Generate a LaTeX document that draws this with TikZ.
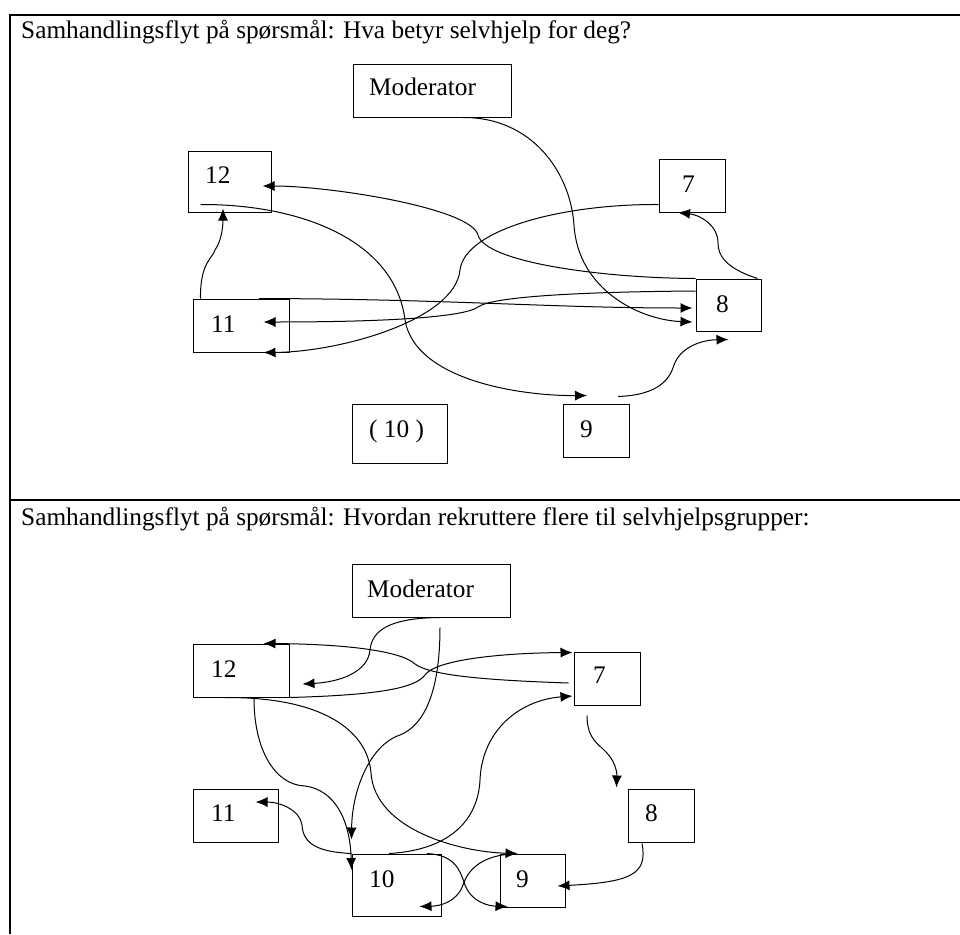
\documentclass[tikz,border=0pt]{standalone}
\usepackage{fontspec}
\setmainfont{Liberation Serif}
\usetikzlibrary{arrows.meta,calc}
\begin{document}
\begin{tikzpicture}[>={Latex[length=12pt,width=10pt]},x=1pt,y=-1pt,
	box/.style={draw,line width=1pt,inner sep=0pt},
	lbl/.style={anchor=base west,inner sep=0pt,font=\fontsize{25.3}{30}\selectfont},
	con/.style={->,line width=1pt}]
	\useasboundingbox (0,0) rectangle (960,934);
	% tabellramme
	\draw[line width=2pt] (10,934) -- (10,15) -- (960,15);
	\draw[line width=2pt] (10,500) -- (960,500);
	\node[lbl] (ttlA) at (21,39) {Samhandlingsflyt på spørsmål: Hva betyr selvhjelp for deg?};
	\node[lbl] (ttlB) at (21,525) {Samhandlingsflyt på spørsmål: Hvordan rekruttere flere til selvhjelpsgrupper:};
	% spørsmål 1
	\node[box,minimum width=158pt,minimum height=53pt] (aMod) at (432,90.5) {};
	\node[box,minimum width=83pt,minimum height=61pt] (a12) at (229.5,181.5) {};
	\node[box,minimum width=66pt,minimum height=53pt] (a7) at (692,185.5) {};
	\node[box,minimum width=65pt,minimum height=52pt] (a8) at (728.5,305) {};
	\node[box,minimum width=96pt,minimum height=53pt] (a11) at (241,325.5) {};
	\node[box,minimum width=95pt,minimum height=59pt] (a10) at (399.5,433.5) {};
	\node[box,minimum width=66pt,minimum height=53pt] (a9) at (596,430.5) {};
	\node[lbl] (aModT) at (369,95) {Moderator};
	\node[lbl] (a12T) at (205,183) {12};
	\node[lbl] (a7T) at (682,192) {7};
	\node[lbl] (a8T) at (716,312) {8};
	\node[lbl] (a11T) at (211,332) {11};
	\node[lbl] (a10T) at (369,437) {( 10 )};
	\node[lbl] (a9T) at (580,437) {9};
	\draw[con] ($(aMod.south)+(31,0)$) .. controls (530,117) and (570,170) .. (574,225)
		.. controls (578,290) and (640,320) .. ($(a8.west)+(-3,17)$);
	\draw[con] (a8.north west) .. controls (600,278) and (485,262) .. (478,235)
		.. controls (471,208) and (330,186) .. ($(a12.east)+(-9,4.5)$);
	\draw[con] ($(a12.south west)+(13,-8)$) .. controls (300,204) and (395,240) .. (405,320)
		.. controls (415,380) and (520,396) .. ($(a9.north)+(-9,-8)$);
	\draw[con] ($(a7.south west)+(0,-8)$) .. controls (560,204) and (465,230) .. (460,270)
		.. controls (455,320) and (340,352) .. ($(a11.south east)+(-26,0)$);
	\draw[con] ($(a8.west)+(0,-14)$) .. controls (560,292) and (490,298) .. (478,307)
		.. controls (466,316) and (400,322) .. ($(a11.east)+(-26,-3.5)$);
	\draw[con] ($(a11.north)+(18,0)$) .. controls (450,299) and (550,308) .. ($(a8.west)+(-3,3)$);
	\draw[con] ($(a11.north west)+(8,0)$) .. controls (200,262) and (213,258) .. (215,250)
		.. controls (222,240) and (223,225) .. ($(a12.south)+(-6.5,-4)$);
	\draw[con] ($(a8.north east)+(-4,0)$) .. controls (725,268) and (718,255) .. (718,243)
		.. controls (718,225) and (700,215) .. ($(a7.south)+(-14,0)$);
	\draw[con] ($(a9.north)+(22,-7)$) .. controls (660,395) and (670,378) .. (674,365)
		.. controls (680,348) and (700,340) .. ($(a8.south)+(0,8)$);
	% spørsmål 2
	\node[box,minimum width=158pt,minimum height=53pt] (bMod) at (431,590.5) {};
	\node[box,minimum width=96pt,minimum height=53pt] (b12) at (241,670.5) {};
	\node[box,minimum width=66pt,minimum height=53pt] (b7) at (607,678.5) {};
	\node[box,minimum width=85pt,minimum height=53pt] (b11) at (235.5,815.5) {};
	\node[box,minimum width=66pt,minimum height=53pt] (b8) at (661,815.5) {};
	\node[box,minimum width=89pt,minimum height=62pt] (b10) at (396.5,885) {};
	\node[box,minimum width=65pt,minimum height=53pt] (b9) at (532.5,880.5) {};
	\node[lbl] (bModT) at (367,597) {Moderator};
	\node[lbl] (b12T) at (211,677) {12};
	\node[lbl] (b7T) at (593,683) {7};
	\node[lbl] (b11T) at (211,821) {11};
	\node[lbl] (b8T) at (645,821) {8};
	\node[lbl] (b10T) at (369,887) {10};
	\node[lbl] (b9T) at (516,887) {9};
	\draw[con] ($(bMod.south)+(9,0)$) .. controls (390,618) and (372,630) .. (370,650)
		.. controls (368,672) and (340,682) .. ($(b12.east)+(13,13.5)$);
	\draw[con] ($(bMod.south)+(9,10)$) .. controls (440,690) and (425,725) .. (400,735)
		.. controls (370,745) and (352,790) .. ($(b10.north west)+(0,-14)$);
	\draw[con] ($(b7.west)+(-5,4.5)$) .. controls (480,680) and (430,675) .. (415,664)
		.. controls (400,650) and (340,644) .. ($(b12.north east)+(-26,0)$);
	\draw[con] (b12.south east) .. controls (380,695) and (415,688) .. (425,675)
		.. controls (435,660) and (500,653) .. ($(b7.north west)+(-1,1)$);
	\draw[con] ($(b12.south)+(13,1)$) .. controls (254,750) and (275,785) .. (305,786)
		.. controls (335,790) and (350,820) .. ($(b10.west)+(0,-15)$);
	\draw[con] ($(b12.south)+(-16,0)$) .. controls (330,697) and (368,735) .. (371,773)
		.. controls (375,830) and (460,852) .. ($(b9.north west)+(18,0)$);
	\draw[con] ($(b10.north)+(-7.5,0)$) .. controls (450,850) and (478,820) .. (480,780)
		.. controls (482,730) and (520,700) .. ($(b7.west)+(-1,17.5)$);
	\draw[con] (b10.north west) .. controls (320,852) and (303,845) .. (302,825)
		.. controls (300,810) and (280,802) .. ($(b11.east)+(-23,-13.5)$);
	\draw[con] ($(b7.south)+(-20,10)$) .. controls (587,740) and (600,745) .. (606,752)
		.. controls (614,760) and (617,770) .. ($(b8.north west)+(-11,-1)$);
	\draw[con] ($(b8.south)+(-19,1)$) .. controls (648,875) and (630,882) .. ($(b9.east)+(-8,5.5)$);
	\draw[con] ($(b10.north)+(30.5,0)$) .. controls (455,855) and (460,870) .. (465,885)
		.. controls (472,903) and (490,906) .. ($(b9.south west)+(8,-1)$);
	\draw[con] ($(b9.north west)+(6,1)$) .. controls (480,858) and (468,870) .. (463,885)
		.. controls (457,902) and (440,906) .. ($(b10.south east)+(-22,-10)$);
\end{tikzpicture}
\end{document}
